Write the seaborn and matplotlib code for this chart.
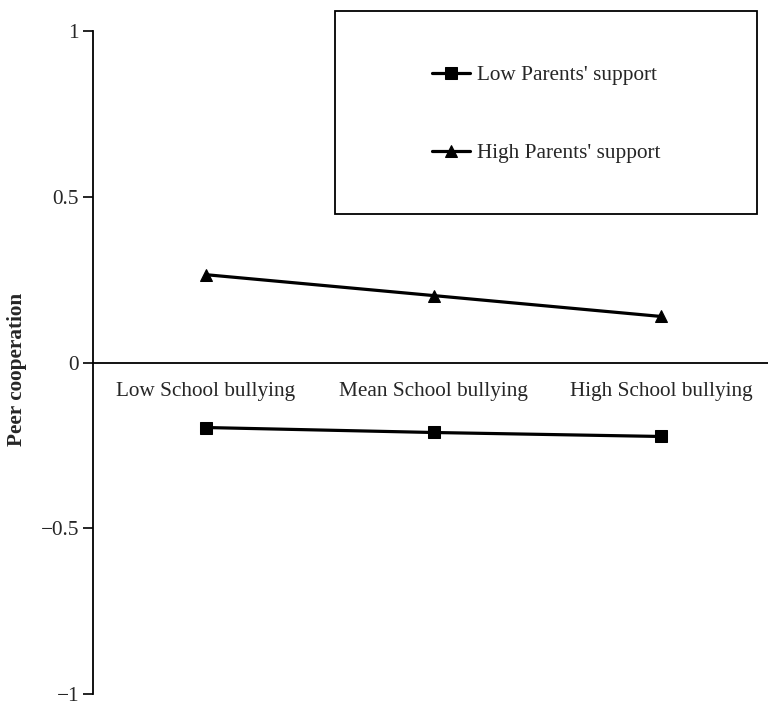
import matplotlib
matplotlib.use("Agg")
import matplotlib.pyplot as plt
import matplotlib.patches as patches
import seaborn as sns
import pandas as pd

# Dados
categorias = ["Low School bullying", "Mean School bullying", "High School bullying"]
grupos = ["Low Parents' support", "High Parents' support"]
low_support = [-0.196, -0.211, -0.223]
high_support = [0.265, 0.202, 0.139]
yticks = [-1, -0.5, 0, 0.5, 1]
ytick_labels = ["\u22121", "\u22120.5", "0", "0.5", "1"]

df = pd.DataFrame({
    "pos": list(range(len(categorias))) * 2,
    "valor": low_support + high_support,
    "grupo": [grupos[0]] * 3 + [grupos[1]] * 3,
})

sns.set_style("white")
plt.rcParams["font.family"] = ["Liberation Serif", "DejaVu Serif"]
fs = 15.3

fig = plt.figure(figsize=(7.68, 7.05), dpi=100)
ax = fig.add_axes([0.121, 0.0155, 0.879, 0.9405])

sns.lineplot(data=df, x="pos", y="valor", style="grupo", style_order=grupos,
             markers={grupos[0]: "s", grupos[1]: "^"}, dashes=False,
             color="black", linewidth=2.3, markersize=9,
             markeredgecolor="black", ax=ax)

ax.set_xlim(-0.497, 2.47)
ax.set_ylim(-1, 1)

# Eixo x cruzando em y = 0
ax.spines["bottom"].set_position(("data", 0))
ax.spines["top"].set_visible(False)
ax.spines["right"].set_visible(False)
for s in ["bottom", "left"]:
    ax.spines[s].set_linewidth(1.3)
    ax.spines[s].set_color("black")

ax.set_xticks(range(len(categorias)))
ax.set_xticklabels(categorias, fontsize=fs)
ax.set_xticks([0.5, 1.5], minor=True)
ax.tick_params(axis="x", which="major", length=0, pad=14)
ax.tick_params(axis="x", which="minor", length=6, width=1.2, direction="out", color="black")

ax.set_yticks(yticks)
ax.set_yticklabels(ytick_labels, fontsize=fs)
ax.tick_params(axis="y", length=7, width=1.2, direction="out", color="black", left=True, pad=3)

ax.set_xlabel("")
ax.set_ylabel("Peer cooperation", fontsize=fs, fontweight="bold")
ax.yaxis.set_label_coords(-0.098, 0.49)

# Legenda centralizada dentro de uma caixa
handles, labels = ax.get_legend_handles_labels()
if ax.legend_:
    ax.legend_.remove()
fig.legend(handles, labels, loc="center", bbox_to_anchor=(0.711, 0.838),
           bbox_transform=fig.transFigure, frameon=False, fontsize=fs,
           handlelength=1.8, handletextpad=0.3, labelspacing=2.75)
fig.add_artist(patches.Rectangle((0.436, 0.696), 0.550, 0.288, transform=fig.transFigure,
                                 fill=False, edgecolor="black", linewidth=1.3))

fig.savefig("out.png", dpi=100)
